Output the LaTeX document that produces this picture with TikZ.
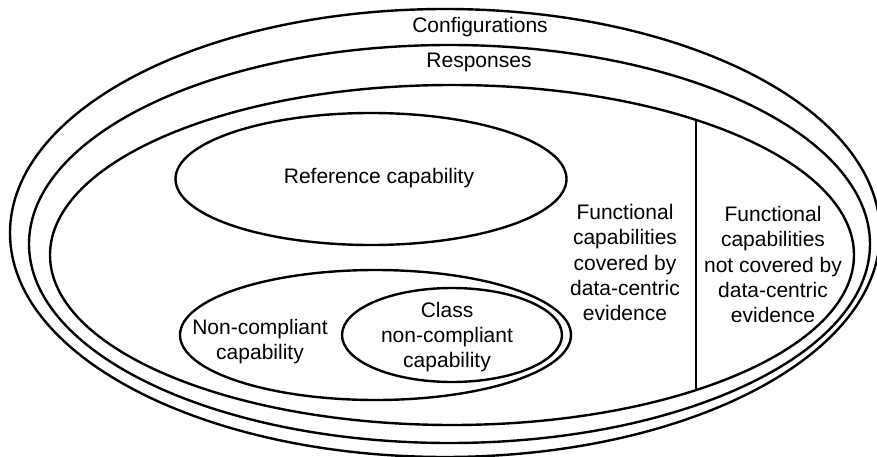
\documentclass[tikz,border=0pt]{standalone}
\usepackage{fontspec}
\setmainfont{Liberation Sans}
\usetikzlibrary{shapes.geometric}
\begin{document}
\begin{tikzpicture}[x=1pt,y=-1pt,
  ring/.style={draw, ellipse, line width=2.4pt, inner sep=0pt, outer sep=0pt},
  txt/.style={align=center, font=\fontsize{21}{25.3}\selectfont, inner sep=0pt}]
\useasboundingbox (0,0) rectangle (877,457);

% nested sets
\node[ring, minimum width=870pt, minimum height=448pt] (config) at (445,233) {};
\node[ring, minimum width=841pt, minimum height=398pt] (resp) at (449.5,244) {};
\node[ring, minimum width=804pt, minimum height=340pt] (func) at (452,255) {};

% capability sets inside the functional region
\node[ring, minimum width=391pt, minimum height=132pt] (ref) at (371,179) {};
\node[ring, minimum width=391pt, minimum height=130pt] (noncomp) at (375.5,335) {};
\node[ring, minimum width=220pt, minimum height=94pt] (classnc) at (452,335) {};

% divider between covered and not covered capabilities
\coordinate (divtop) at (func.29.1);
\coordinate (divbot) at (func.-29.1);
\draw[line width=2.4pt] (divtop) -- (divbot);

% labels
\node[txt, anchor=base] (lconfig) at (480,33) {Configurations};
\node[txt, anchor=base] (lresp) at (479,68) {Responses};
\node[txt, anchor=base] (lref) at (379,183) {Reference capability};
\node[txt] (lcov) at (625,262.5) {Functional\\capabilities\\covered by\\data-centric\\evidence};
\node[txt] (lnotcov) at (773,264.5) {Functional\\capabilities\\not covered by\\data-centric\\evidence};
\node[txt] (lnoncomp) at (260,341.5) {Non-compliant\\capability};
\node[txt] (lclass) at (447,337) {Class\\non-compliant\\capability};
\end{tikzpicture}
\end{document}
